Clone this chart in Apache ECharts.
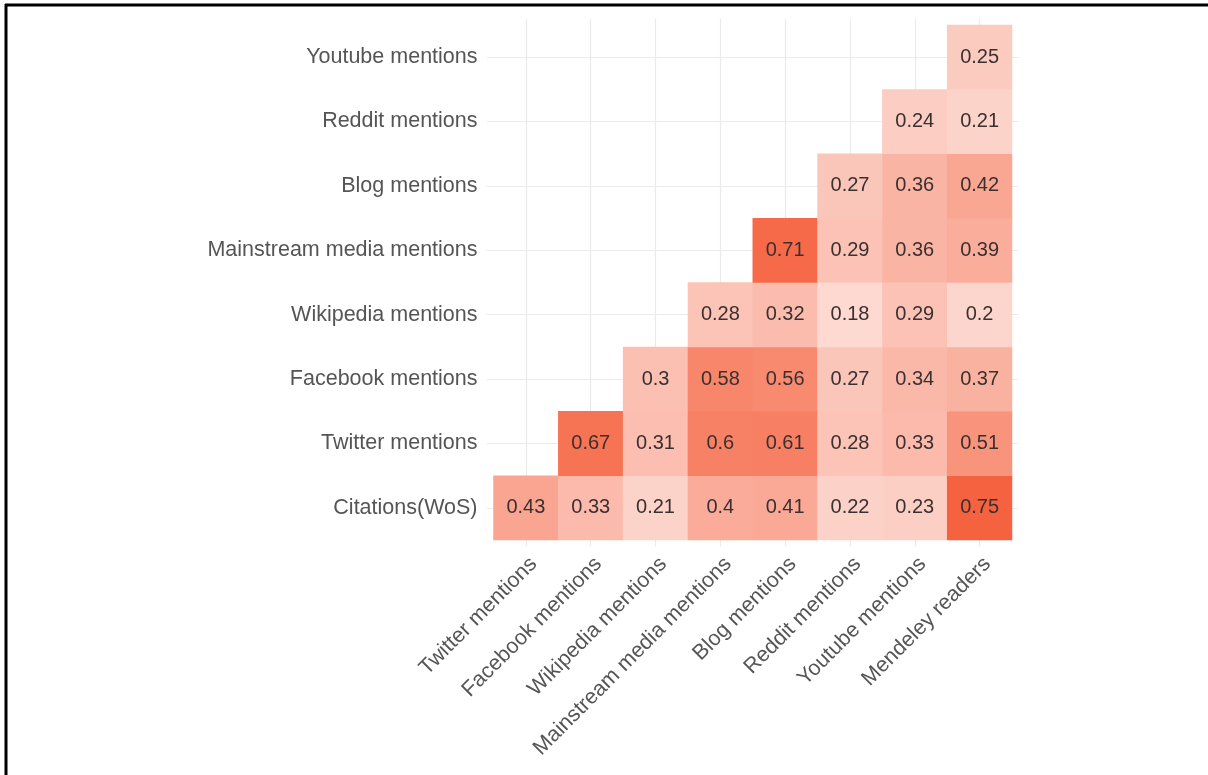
<!DOCTYPE html>
<html>
<head>
<meta charset="utf-8">
<script src="https://cdn.jsdelivr.net/npm/echarts@6/dist/echarts.min.js"></script>
<style>
html,body{margin:0;padding:0;background:#fff;}
#chart{width:1208px;height:775px;}
</style>
</head>
<body>
<div id="chart"></div>
<script>
// Categories
const xCategories = ['Twitter mentions', 'Facebook mentions', 'Wikipedia mentions', 'Mainstream media mentions', 'Blog mentions', 'Reddit mentions', 'Youtube mentions', 'Mendeley readers'];
const yCategories = ['Citations(WoS)', 'Twitter mentions', 'Facebook mentions', 'Wikipedia mentions', 'Mainstream media mentions', 'Blog mentions', 'Reddit mentions', 'Youtube mentions'];

// Correlation values per row (one row per y category, columns follow xCategories)
const citationsRow  = [0.43, 0.33, 0.21, 0.4, 0.41, 0.22, 0.23, 0.75];
const twitterRow    = [null, 0.67, 0.31, 0.6, 0.61, 0.28, 0.33, 0.51];
const facebookRow   = [null, null, 0.3, 0.58, 0.56, 0.27, 0.34, 0.37];
const wikipediaRow  = [null, null, null, 0.28, 0.32, 0.18, 0.29, 0.2];
const mainstreamRow = [null, null, null, null, 0.71, 0.29, 0.36, 0.39];
const blogRow       = [null, null, null, null, null, 0.27, 0.36, 0.42];
const redditRow     = [null, null, null, null, null, null, 0.24, 0.21];
const youtubeRow    = [null, null, null, null, null, null, null, 0.25];

const rows = [citationsRow, twitterRow, facebookRow, wikipediaRow, mainstreamRow, blogRow, redditRow, youtubeRow];
const heatData = [];
rows.forEach(function (row, yi) {
  row.forEach(function (v, xi) {
    if (v !== null) heatData.push([xi, yi, v]);
  });
});

// layout (pixels)
const W = 1208, H = 775;
const tileL = 493.5, tileR = 1012, tileT = 25, tileB = 540;
const cw = (tileR - tileL) / 8, ch = (tileB - tileT) / 8;
const padX = cw * 0.1, padY = ch * 0.1;
const gridColor = '#ebebeb';
const labelFont = 'Liberation Sans';

const chart = echarts.init(document.getElementById('chart'), null, {renderer: 'canvas'});
chart.setOption({
  backgroundColor: '#ffffff',
  animation: false,
  grid: [
    {left: tileL, right: W - tileR, top: tileT, bottom: H - tileB},
    // vertical gridlines grid: x from first to last column centre, y across panel
    {left: tileL + cw / 2, right: W - (tileR - cw / 2), top: tileT - padY, bottom: H - (tileB + padY)},
    // horizontal gridlines grid
    {left: tileL - padX, right: W - (tileR + padX), top: tileT + ch / 2, bottom: H - (tileB - ch / 2)}
  ],
  xAxis: [
    {
      type: 'category', gridIndex: 0, data: xCategories, boundaryGap: true, z: 10,
      axisLine: {show: false}, axisTick: {show: false}, splitLine: {show: false},
      axisLabel: {rotate: 45, interval: 0, margin: 13, verticalAlign: 'top', align: 'right',
        color: '#555555', fontFamily: labelFont, fontSize: 21.5}
    },
    {
      type: 'category', gridIndex: 1, data: xCategories, boundaryGap: false,
      axisLine: {show: false}, axisTick: {show: false}, axisLabel: {show: false},
      splitLine: {show: true, interval: 0, lineStyle: {color: gridColor, width: 1.2}}
    },
    {
      type: 'category', gridIndex: 2, data: xCategories, boundaryGap: true,
      axisLine: {show: false}, axisTick: {show: false}, axisLabel: {show: false}, splitLine: {show: false}
    }
  ],
  yAxis: [
    {
      type: 'category', gridIndex: 0, data: yCategories, boundaryGap: true, z: 10,
      axisLine: {show: false}, axisTick: {show: false}, splitLine: {show: false},
      axisLabel: {interval: 0, margin: 16, color: '#555555', fontFamily: labelFont, fontSize: 21.5}
    },
    {
      type: 'category', gridIndex: 1, data: yCategories, boundaryGap: true,
      axisLine: {show: false}, axisTick: {show: false}, axisLabel: {show: false}, splitLine: {show: false}
    },
    {
      type: 'category', gridIndex: 2, data: yCategories, boundaryGap: false,
      axisLine: {show: false}, axisTick: {show: false}, axisLabel: {show: false},
      splitLine: {show: true, interval: 0, lineStyle: {color: gridColor, width: 1.2}}
    }
  ],
  visualMap: {
    show: false, min: 0, max: 0.75, dimension: 2, seriesIndex: 0,
    inRange: {color: ['#ffffff', '#f5623f']}
  },
  series: [
    {
      type: 'heatmap', xAxisIndex: 0, yAxisIndex: 0, data: heatData, z: 5,
      label: {show: true, color: '#3a3030', fontFamily: labelFont, fontSize: 20,
        formatter: function (p) { return String(p.value[2]); }},
      itemStyle: {borderWidth: 0},
      emphasis: {disabled: true}
    }
  ],
  graphic: [
    {type: 'line', shape: {x1: 5, y1: 5, x2: W, y2: 5}, style: {stroke: '#000', lineWidth: 3}},
    {type: 'line', shape: {x1: 6, y1: 4, x2: 6, y2: H}, style: {stroke: '#000', lineWidth: 3}}
  ]
});
</script>
</body>
</html>
